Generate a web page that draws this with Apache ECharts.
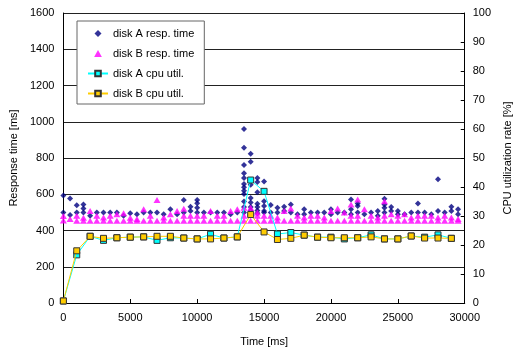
<!DOCTYPE html>
<html>
<head>
<meta charset="utf-8">
<script src="https://cdn.jsdelivr.net/npm/echarts@6/dist/echarts.min.js"></script>
<style>
html,body{margin:0;padding:0;background:#fff;}
#chart{width:521px;height:352px;}
</style>
</head>
<body>
<div id="chart"></div>
<script>
// Response time samples: [time ms, value ms, value ms, ...] per time column
var respAColumns = [
  [0, 593, 500], [500, 577, 486], [1000, 539, 499], [1500, 544, 521, 499],
  [2000, 481], [2500, 499], [3000, 500], [3500, 500], [4000, 499], [4500, 481],
  [5000, 495], [5500, 490], [6000, 499], [6500, 499], [7000, 499], [7500, 490],
  [8000, 517], [8500, 490], [9000, 568, 500], [9500, 531, 508],
  [10000, 568, 550, 526, 500], [10500, 499], [11000, 499], [11500, 500],
  [12000, 500], [12500, 490], [13000, 500],
  [13500, 960, 857, 761, 716, 689, 656, 638, 620, 602, 560, 530, 499],
  [14000, 823, 779, 652, 580, 555, 530, 510],
  [14500, 689, 667, 611, 548, 530, 510, 495],
  [15000, 671, 562, 535, 508, 499], [15500, 541, 499], [16000, 526, 499],
  [16500, 531, 508], [17000, 544, 499], [17500, 490], [18000, 517, 490],
  [18500, 499], [19000, 500], [19500, 500], [20000, 517, 490], [20500, 500],
  [21000, 500], [21500, 571, 517, 490], [22000, 549, 535, 499], [22500, 490],
  [23000, 500], [23500, 508, 481], [24000, 575, 544, 526, 499], [24500, 530, 508],
  [25000, 508, 490], [25500, 490], [26000, 500], [26500, 549, 499], [27000, 499],
  [27500, 490], [28000, 683, 508], [28500, 499], [29000, 531, 508], [29500, 517, 490]
];
var respBColumns = [
  [0, 480, 455], [500, 463], [1000, 481, 454], [1500, 470, 454], [2000, 508, 454],
  [2500, 481, 454], [3000, 472, 454], [3500, 481, 454], [4000, 490, 454],
  [4500, 495, 454], [5000, 470, 454], [5500, 463, 454], [6000, 517, 454],
  [6500, 481, 454], [7000, 568, 454], [7500, 472, 454], [8000, 490, 454],
  [8500, 508, 454], [9000, 520, 481, 454], [9500, 481, 454], [10000, 481, 454],
  [10500, 481, 454], [11000, 508, 454], [11500, 481, 454], [12000, 481, 454],
  [12500, 508, 454], [13000, 517, 454], [13500, 526, 481, 454],
  [14000, 526, 500, 454], [14500, 499, 481, 454], [15000, 481, 454],
  [15500, 481, 454], [16000, 472, 454], [16500, 508, 454], [17000, 521, 454],
  [17500, 481, 454], [18000, 472, 454], [18500, 481, 454], [19000, 481, 454],
  [19500, 472, 454], [20000, 508, 454], [20500, 521, 454], [21000, 499, 454],
  [21500, 544, 481, 454], [22000, 571, 481, 454], [22500, 517, 454],
  [23000, 481, 454], [23500, 472, 454], [24000, 562, 481, 454], [24500, 490, 454],
  [25000, 481, 454], [25500, 490, 454], [26000, 472, 454], [26500, 481, 454],
  [27000, 481, 454], [27500, 481, 454], [28000, 472, 454], [28500, 481, 454],
  [29000, 472, 454], [29500, 463, 454]
];
// CPU utilization (%)
var cpuTime = [0,1000,2000,3000,4000,5000,6000,7000,8000,9000,10000,11000,12000,13000,14000,
               15000,16000,17000,18000,19000,20000,21000,22000,23000,24000,25000,26000,27000,28000,29000];
var cpuA = [0.7,16.6,23.0,21.6,22.5,22.7,22.8,21.6,22.5,22.4,22.1,23.7,22.4,22.8,42.4,
            38.5,23.8,24.3,23.4,22.7,22.7,22.1,22.5,23.5,22.1,22.1,23.1,22.7,23.5,22.3];
var cpuB = [0.7,18.0,23.0,22.3,22.5,22.7,22.8,23.0,23.0,22.4,22.1,22.1,22.4,22.8,30.5,
            24.5,21.9,22.3,23.4,22.7,22.5,22.5,22.5,22.8,22.1,22.1,23.1,22.4,22.4,22.3];

function flatten(cols) {
  var out = [];
  cols.forEach(function (c) { for (var i = 1; i < c.length; i++) out.push([c[0], c[i]]); });
  return out;
}
function pair(t, v) { return t.map(function (x, i) { return [x, v[i]]; }); }

var font = 'Liberation Sans, Arial, sans-serif';
var chart = echarts.init(document.getElementById('chart'), null, {renderer: 'canvas'});
chart.setOption({
  animation: false,
  textStyle: {fontFamily: font, color: '#000'},
  grid: {left: 60, right: 44, top: 13, bottom: 44, containLabel: false},
  legend: {
    orient: 'vertical', left: 77, top: 21,
    itemWidth: 20, itemHeight: 7, itemGap: 9,
    padding: [7, 10, 5, 10],
    symbolKeepAspect: true,
    borderColor: '#666', borderWidth: 1, backgroundColor: '#fff',
    textStyle: {fontFamily: font, fontSize: 11, color: '#000'},
    data: [
      {name: 'disk A resp. time', icon: 'path://M5,0L10,5L5,10L0,5Z'},
      {name: 'disk B resp. time', icon: 'path://M5,0L10,9L0,9Z'},
      'disk A cpu util.', 'disk B cpu util.'
    ]
  },
  xAxis: {
    type: 'value', min: 0, max: 30000, interval: 5000,
    name: 'Time [ms]', nameLocation: 'middle', nameGap: 33,
    nameTextStyle: {fontSize: 11, color: '#000'},
    axisLine: {show: true, lineStyle: {color: '#000'}},
    axisTick: {show: true, inside: true, length: 4, lineStyle: {color: '#000'}},
    axisLabel: {fontSize: 11, color: '#000', margin: 9, formatter: function (v) { return String(v); }},
    splitLine: {show: false}
  },
  yAxis: [{
    type: 'value', min: 0, max: 1600, interval: 200, position: 'left',
    name: 'Response time [ms]', nameLocation: 'middle', nameGap: 40,
    nameTextStyle: {fontSize: 11, color: '#000'},
    axisLine: {show: true, lineStyle: {color: '#000'}},
    axisTick: {show: false},
    axisLabel: {fontSize: 11, color: '#000', margin: 9, formatter: function (v) { return String(v); }},
    splitLine: {show: true, lineStyle: {color: '#222', width: 1}}
  }, {
    type: 'value', min: 0, max: 100, interval: 10, position: 'right',
    name: 'CPU utilization rate [%]', nameLocation: 'middle', nameGap: 31,
    nameTextStyle: {fontSize: 11, color: '#000'},
    axisLine: {show: true, lineStyle: {color: '#000'}},
    axisTick: {show: true, inside: true, length: 4, lineStyle: {color: '#000'}},
    axisLabel: {fontSize: 11, color: '#000', margin: 8},
    splitLine: {show: false}
  }],
  series: [{
    name: 'disk A resp. time', type: 'scatter', yAxisIndex: 0,
    symbol: 'diamond', symbolSize: 6,
    itemStyle: {color: '#000080'},
    data: flatten(respAColumns), z: 2
  }, {
    name: 'disk B resp. time', type: 'scatter', yAxisIndex: 0,
    symbol: 'triangle', symbolSize: [7, 6],
    itemStyle: {color: '#FF00FF'},
    data: flatten(respBColumns), z: 3
  }, {
    name: 'disk A cpu util.', type: 'line', yAxisIndex: 1,
    symbol: 'rect', symbolSize: 6, showAllSymbol: true,
    lineStyle: {color: '#00FFFF', width: 1},
    itemStyle: {color: '#00FFFF', borderColor: '#333', borderWidth: 1},
    data: pair(cpuTime, cpuA), z: 4
  }, {
    name: 'disk B cpu util.', type: 'line', yAxisIndex: 1,
    symbol: 'rect', symbolSize: 6, showAllSymbol: true,
    lineStyle: {color: '#FFCC00', width: 1},
    itemStyle: {color: '#FFCC00', borderColor: '#333', borderWidth: 1},
    data: pair(cpuTime, cpuB), z: 5
  }]
});
</script>
</body>
</html>
